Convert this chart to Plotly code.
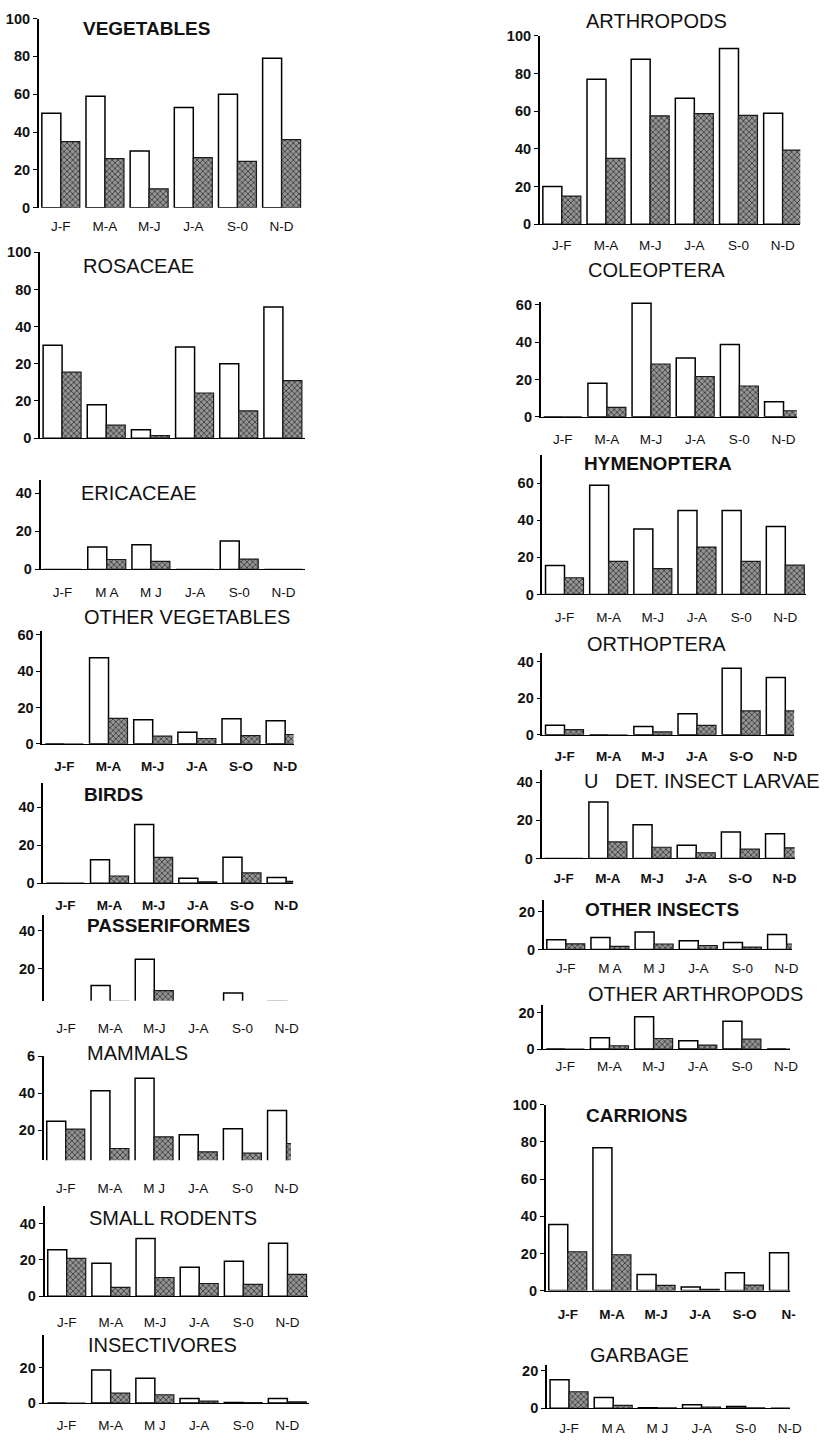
import plotly.graph_objects as go

W, H = 839, 1443
S = 44.8  # px per category slot

PERIODS = ["J-F", "M-A", "M-J", "J-A", "S-O", "N-D"]

# ---- data (white bars, hatched bars) ----
veg_w = [50, 59, 30, 53, 60, 79]
veg_h = [35, 26, 10, 26.5, 24.5, 36]
ros_w = [50, 18, 4.5, 49, 40, 70.5]
ros_h = [35.5, 7, 1.4, 24.3, 14.7, 31]
eri_w = [0, 11.8, 13, 0, 14.9, 0]
eri_h = [0, 5.2, 4.2, 0, 5.4, 0]
oveg_w = [0, 47.5, 13.3, 6.4, 13.8, 12.7]
oveg_h = [0, 14, 4.2, 2.9, 4.5, 5.1]
bird_w = [0, 12.3, 31, 2.6, 13.7, 3]
bird_h = [0, 3.8, 13.6, 0.7, 5.4, 1]
pass_w = [0, 11, 25, 0, 7, 2.5]
pass_h = [0, 2.5, 8.2, 0, 2.1, 0]
mam_w = [24.8, 41.3, 48, 17.5, 20.7, 30.5]
mam_h = [20.5, 10, 16.3, 8.2, 7.5, 12.7]
rod_w = [25.5, 18.1, 31.7, 15.9, 19.2, 29.2]
rod_h = [20.8, 4.9, 10.3, 7, 6.5, 12]
ins_w = [0, 18.7, 14, 2.6, 0.3, 2.6]
ins_h = [0, 5.6, 4.7, 1.1, 0.2, 0.7]
art_w = [20, 77, 87.6, 67, 93.3, 59]
art_h = [15, 35, 57.6, 58.8, 57.8, 39.4]
col_w = [0, 18, 60.9, 31.5, 38.8, 8]
col_h = [0, 5, 28.3, 21.6, 16.5, 3.2]
hym_w = [15.6, 59, 35.4, 45.3, 45.3, 36.7]
hym_h = [9, 17.9, 13.9, 25.6, 17.9, 15.8]
ort_w = [5.2, 0, 4.5, 11.5, 36.4, 31.4]
ort_h = [2.9, 0, 1.6, 5.2, 13.1, 13.1]
lar_w = [0, 29.6, 17.7, 7, 13.9, 13]
lar_h = [0, 8.7, 5.9, 3, 4.9, 5.6]
oins_w = [5.2, 6.3, 9.3, 4.6, 3.75, 7.9]
oins_h = [3, 1.6, 2.9, 2.1, 1.25, 2.9]
oart_w = [0, 6.2, 17.8, 4.5, 15.3, 0]
oart_h = [0, 1.8, 5.8, 2.2, 5.5, 0]
car_w = [35.5, 76.8, 8.7, 2, 9.6, 20.4]
car_h = [20.9, 19.3, 2.8, 0.7, 3, 0]
gar_w = [15.2, 5.7, 0.3, 1.9, 0.9, 0]
gar_h = [8.8, 1.6, 0.2, 0.7, 0.2, 0]

# tick label variants as printed
LBL_A = ["J-F", "M-A", "M-J", "J-A", "S-0", "N-D"]
LBL_B = ["J-F", "M-A", "M-J", "J-A", "S-O", "N-D"]
LBL_C = ["J-F", "M A", "M J", "J-A", "S-0", "N-D"]
LBL_D = ["J-F", "M-A", "M J", "J-A", "S-0", "N-D"]
LBL_E = ["J-F", "M-A", "M-J", "J-A", "S-O", "N-"]

panels = [
    dict(t="VEGETABLES", w=veg_w, h=veg_h, tx=82, ty=21, tb=True, y0=202, ppu=1.913,
         ymin=0, ymax=100, cx=61.7, xmax=5.5, xl=False, ly=218, lb=LBL_A, lbb=False,
         tv=[0, 20, 40, 60, 80, 100], tt=["0", "20", "40", "60", "80", "100"]),
    dict(t="ROSACEAE", w=ros_w, h=ros_h, tx=82, ty=261, tb=False, y0=435, ppu=1.88,
         ymin=0, ymax=100, cx=63, xmax=5.51, xl=True, ly=None, lb=LBL_A, lbb=False,
         tv=[0, 20, 40, 60, 80, 100], tt=["0", "20", "20", "40", "80", "100"]),
    dict(t="ERICACEAE", w=eri_w, h=eri_h, tx=80, ty=490, tb=False, y0=567.7, ppu=1.927,
         ymin=0, ymax=47, cx=63.5, xmax=5.5, xl=True, ly=587, lb=LBL_C, lbb=False,
         tv=[0, 20, 40], tt=["0", "20", "40"]),
    dict(t="OTHER VEGETABLES", w=oveg_w, h=oveg_h, tx=83, ty=616, tb=False, y0=744, ppu=1.833,
         ymin=0, ymax=62, cx=65.3, xmax=5.19, xl=True, ly=763, lb=LBL_B, lbb=True,
         tv=[0, 20, 40, 60], tt=["0", "20", "40", "60"]),
    dict(t="BIRDS", w=bird_w, h=bird_h, tx=83, ty=795, tb=True, y0=885, ppu=1.9175,
         ymin=0, ymax=53, cx=66.3, xmax=5.16, xl=True, ly=904, lb=LBL_B, lbb=True,
         tv=[0, 20, 40], tt=["0", "20", "40"]),
    dict(t="PASSERIFORMES", w=pass_w, h=pass_h, tx=86, ty=928, tb=True, y0=1009.3, ppu=1.9,
         ymin=2.8, ymax=48.7, cx=66.9, xmax=5.5, xl=False, ly=1028, lb=LBL_A, lbb=False,
         tv=[20, 40], tt=["20", "40"]),
    dict(t="MAMMALS", w=mam_w, h=mam_h, tx=86, ty=1057, tb=False, y0=1172, ppu=1.87,
         ymin=3.7, ymax=60, cx=66.7, xmax=5.1, xl=False, ly=1190, lb=LBL_D, lbb=False,
         tv=[20, 40, 60], tt=["20", "40", "6"]),
    dict(t="SMALL RODENTS", w=rod_w, h=rod_h, tx=88, ty=1224, tb=False, y0=1302.7, ppu=1.84,
         ymin=0, ymax=49.5, cx=67.7, xmax=5.47, xl=True, ly=1326, lb=LBL_A, lbb=False,
         tv=[0, 20, 40], tt=["0", "20", "40"]),
    dict(t="INSECTIVORES", w=ins_w, h=ins_h, tx=87, ty=1352, tb=False, y0=1410.7, ppu=1.785,
         ymin=0, ymax=38.6, cx=67.5, xmax=5.48, xl=True, ly=1430, lb=LBL_D, lbb=False,
         tv=[0, 20], tt=["0", "20"]),
    dict(t="ARTHROPODS", w=art_w, h=art_h, tx=592, ty=13, tb=False, y0=218.7, ppu=1.904,
         ymin=0, ymax=100, cx=570, xmax=5.4, xl=True, ly=237, lb=LBL_A, lbb=False,
         tv=[0, 20, 40, 60, 80, 100], tt=["0", "20", "40", "60", "80", "100"]),
    dict(t="COLEOPTERA", w=col_w, h=col_h, tx=594, ty=265, tb=False, y0=413.3, ppu=1.883,
         ymin=0, ymax=61.6, cx=570.9, xmax=5.3, xl=True, ly=433, lb=LBL_A, lbb=False,
         tv=[0, 20, 40, 60], tt=["0", "20", "40", "60"]),
    dict(t="HYMENOPTERA", w=hym_w, h=hym_h, tx=590, ty=461, tb=True, y0=593, ppu=1.872,
         ymin=0, ymax=75.5, cx=572.7, xmax=5.47, xl=True, ly=613, lb=LBL_A, lbb=False,
         tv=[0, 20, 40, 60], tt=["0", "20", "40", "60"]),
    dict(t="ORTHOPTERA", w=ort_w, h=ort_h, tx=593, ty=643, tb=False, y0=735, ppu=1.85,
         ymin=0, ymax=45, cx=572.7, xmax=5.2, xl=True, ly=753, lb=LBL_B, lbb=True,
         tv=[0, 20, 40], tt=["0", "20", "40"]),
    dict(t="U\u00a0\u00a0\u00a0DET. INSECT LARVAE", w=lar_w, h=lar_h, tx=590, ty=782, tb=False,
         y0=860, ppu=1.925, ymin=0, ymax=46.4, cx=571.9, xmax=5.23, xl=True, ly=877, lb=LBL_B,
         lbb=True, tv=[0, 20, 40], tt=["0", "20", "40"]),
    dict(t="OTHER INSECTS", w=oins_w, h=oins_h, tx=591, ty=912, tb=True, y0=952, ppu=1.9,
         ymin=0, ymax=26.5, cx=574, xmax=5.12, xl=True, ly=968, lb=LBL_C, lbb=False,
         tv=[0, 20], tt=["0", "20"]),
    dict(t="OTHER ARTHROPODS", w=oart_w, h=oart_h, tx=595, ty=997, tb=False, y0=1052.7, ppu=1.835,
         ymin=0, ymax=24.4, cx=573.5, xmax=5.09, xl=True, ly=1067, lb=LBL_A, lbb=False,
         tv=[0, 20], tt=["0", "20"]),
    dict(t="CARRIONS", w=car_w, h=car_h, tx=592, ty=1120, tb=True, y0=1297, ppu=1.88,
         ymin=0, ymax=100, cx=576, xmax=5.04, xl=True, ly=1318, lb=LBL_E, lbb=True,
         tv=[0, 20, 40, 60, 80, 100], tt=["0", "20", "40", "60", "80", "100"]),
    dict(t="GARBAGE", w=gar_w, h=gar_h, tx=597, ty=1362, tb=False, y0=1416, ppu=1.9,
         ymin=0, ymax=22.8, cx=577.3, xmax=5.0, xl=True, ly=1433, lb=LBL_C, lbb=False,
         tv=[0, 20], tt=["0", "20"]),
]

FONT = "Liberation Sans, Arial, sans-serif"
fig = go.Figure()
annotations = []
TICK_FS = 14.5
LBL_FS = 13.5

for i, p in enumerate(panels, start=1):
    xa = "x" if i == 1 else f"x{i}"
    ya = "y" if i == 1 else f"y{i}"
    fig.add_trace(go.Bar(
        x=PERIODS, y=p["w"], xaxis=xa, yaxis=ya, showlegend=False,
        marker=dict(color="white", line=dict(color="black", width=1.5)),
    ))
    fig.add_trace(go.Bar(
        x=PERIODS, y=p["h"], xaxis=xa, yaxis=ya, showlegend=False,
        marker=dict(color="#8a8a8a", line=dict(color="#1a1a1a", width=1.2),
                    pattern=dict(shape="x", fgcolor="#303030", bgcolor="#959595",
                                 size=4, solidity=0.35, fillmode="replace")),
    ))
    left = (p["cx"] - 0.5 * S) / W
    right = (p["cx"] + p["xmax"] * S) / W
    bot_px = p["y0"] - p["ymin"] * p["ppu"]
    top_px = p["y0"] - p["ymax"] * p["ppu"]
    ydom = [1 - bot_px / H, 1 - top_px / H]
    key_x = "xaxis" if i == 1 else f"xaxis{i}"
    key_y = "yaxis" if i == 1 else f"yaxis{i}"
    show_lbl = p["ly"] is not None
    tlen = (p["ly"] - bot_px - 9.5) if show_lbl else 0
    fig.layout[key_x] = dict(
        domain=[left, right], anchor=ya, type="category",
        range=[-0.5, p["xmax"]], showgrid=False, zeroline=False,
        showline=p["xl"], linecolor="black", linewidth=1.3,
        tickvals=PERIODS, ticktext=p["lb"], showticklabels=show_lbl,
        ticks="outside" if show_lbl else "", ticklen=max(tlen, 0), tickcolor="rgba(0,0,0,0)",
        tickfont=dict(family=FONT, size=LBL_FS, color="#111",
                      weight="bold" if p["lbb"] else "normal"),
        fixedrange=True,
    )
    fig.layout[key_y] = dict(
        domain=ydom, anchor=xa, range=[p["ymin"], p["ymax"]],
        showgrid=False, zeroline=False, showline=True, linecolor="black", linewidth=1.6,
        tickvals=p["tv"], ticktext=p["tt"], ticks="outside", ticklen=4, tickwidth=1.2,
        tickcolor="black",
        tickfont=dict(family=FONT, size=TICK_FS, color="#111", weight="bold"),
        fixedrange=True,
    )
    annotations.append(dict(
        text=p["t"], xref="paper", yref="paper", x=p["tx"] / W, y=1 - p["ty"] / H,
        xanchor="left", yanchor="middle", showarrow=False,
        font=dict(family=FONT, size=19 if p["tb"] else 20, color="#111",
                  weight="bold" if p["tb"] else "normal"),
    ))

fig.update_layout(
    width=W, height=H, margin=dict(l=0, r=0, t=0, b=0),
    paper_bgcolor="white", plot_bgcolor="white",
    barmode="group", bargap=0.14, bargroupgap=0,
    annotations=annotations, showlegend=False,
)

fig.write_html("out.html", config={"displayModeBar": False},
               post_script="document.body.style.margin='0px';")
